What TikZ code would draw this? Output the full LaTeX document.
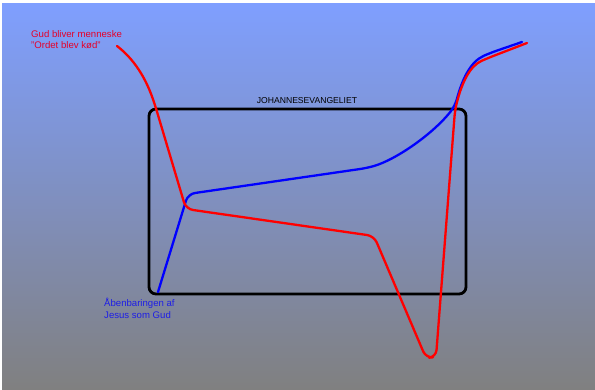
\documentclass[tikz,border=0pt]{standalone}
\usepackage{fontspec}
\setmainfont{Liberation Sans}
\begin{document}
\begin{tikzpicture}[x=1pt,y=-1pt,
  lbl/.style={font=\fontsize{9.6}{11.5}\selectfont, align=left, inner sep=0pt, anchor=north west},
  redline/.style={draw={rgb,255:red,255;green,0;blue,0}, line width=2.3pt, line join=round, line cap=round},
  blueline/.style={draw={rgb,255:red,0;green,0;blue,255}, line width=2.3pt, line join=round, line cap=round}]
\useasboundingbox (0,0) rectangle (595,389);
\fill[white] (0,0) rectangle (595,389);
\shade[top color={rgb,255:red,127;green,159;blue,255}, bottom color={rgb,255:red,128;green,128;blue,128}] (2,3) rectangle (595,389);
% frame
\draw[line width=2.8pt, rounded corners=7pt] (149,109) rectangle (466,294);
\node[font=\fontsize{8.6}{10}\selectfont, inner sep=0pt] (title) at (307,101) {JOHANNESEVANGELIET};
% labels
\node[lbl, text={rgb,255:red,230;green,0;blue,40}] (gud) at (31,30) {Gud bliver menneske\\"Ordet blev kød"};
\node[lbl, text={rgb,255:red,30;green,30;blue,230}] (jes) at (104,298) {Åbenbaringen af\\Jesus som Gud};
% blue line
\draw[blueline, rounded corners=7pt] (158,292) -- (188,194) -- (367,168)
  .. controls (395,160) and (432,135) .. (455,106)
  .. controls (462,80) and (470,62) .. (490,53) -- (522,42);
% red line
\draw[redline, rounded corners=7pt] (117,46) .. controls (138,62) and (148,85) .. (155,105)
  -- (186,209) -- (374,236) -- (426,358) -- (436,357) -- (455,110)
  .. controls (462,82) and (470,66) .. (488,58) -- (527,43);
\end{tikzpicture}
\end{document}
